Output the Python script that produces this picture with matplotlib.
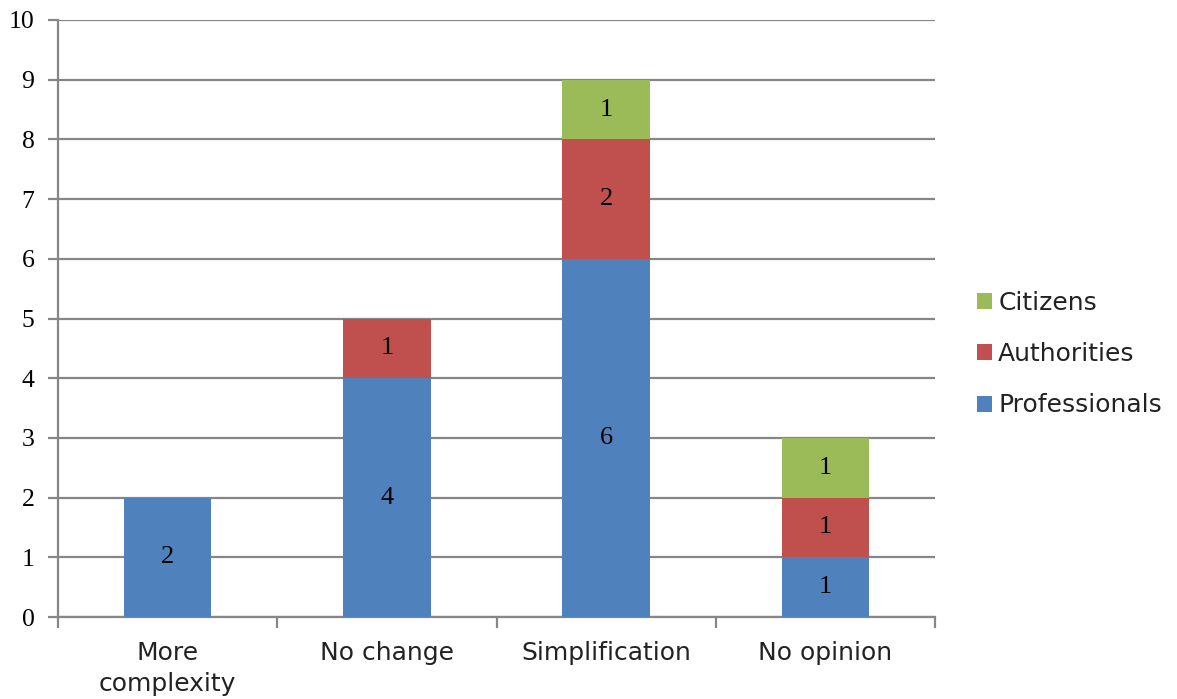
import numpy as np
import matplotlib
matplotlib.use('Agg')
import matplotlib.pyplot as plt

categories = ['More\ncomplexity', 'No change', 'Simplification', 'No opinion']
professionals = [2, 4, 6, 1]
authorities = [0, 1, 2, 1]
citizens = [0, 0, 1, 1]
y_ticks = list(range(0, 11))

grid_color = '#868686'
colors = {'Professionals': '#4F81BD', 'Authorities': '#C0504D', 'Citizens': '#9BBB59'}

fig = plt.figure(figsize=(11.77, 6.99), dpi=100)
ax = fig.add_axes([58 / 1177, 1 - 617 / 699, (935 - 58) / 1177, (617 - 20) / 699])

x = np.arange(len(categories))
width = 0.4
bottom = np.zeros(len(categories))
handles = {}
for name, vals in [('Professionals', professionals), ('Authorities', authorities), ('Citizens', citizens)]:
    vals = np.array(vals, dtype=float)
    bars = ax.bar(x, vals, width, bottom=bottom, color=colors[name], label=name, zorder=3)
    handles[name] = bars
    # data labels only on non-empty segments
    for xi, b, v in zip(x, bottom, vals):
        if v > 0:
            ax.text(xi, b + v / 2, f'{int(v)}', ha='center', va='center',
                    fontsize=19, family='Liberation Serif', zorder=4)
    bottom += vals

ax.set_xlim(-0.5, 3.5)
ax.set_ylim(0, 10)
ax.set_yticks(y_ticks)
ax.set_yticklabels([str(t) for t in y_ticks], family='Liberation Serif', fontsize=18.5)
ax.yaxis.grid(True, color=grid_color, linewidth=1.6, zorder=0)

ax.set_xticks(x)
ax.set_xticklabels(categories, fontsize=18, family='DejaVu Sans', color='#222222', linespacing=1.4)
ax.tick_params(axis='x', which='major', length=0, pad=17)
ax.set_xticks(np.arange(-0.5, 4, 1), minor=True)
ax.tick_params(axis='x', which='minor', length=8, width=1.6, color=grid_color, direction='out')
ax.tick_params(axis='y', length=7, width=1.6, color=grid_color, direction='out', pad=10)

for s in ['top', 'right']:
    ax.spines[s].set_visible(False)
for s in ['left', 'bottom']:
    ax.spines[s].set_color(grid_color)
    ax.spines[s].set_linewidth(1.6)

leg = fig.legend([handles['Citizens'], handles['Authorities'], handles['Professionals']],
                 ['Citizens', 'Authorities', 'Professionals'],
                 loc='center left', bbox_to_anchor=(977 / 1177, 1 - 354 / 699),
                 frameon=False, prop={'family': 'DejaVu Sans', 'size': 18},
                 borderpad=0, borderaxespad=0,
                 handlelength=0.6, handleheight=0.6, handletextpad=0.25, labelspacing=1.1)
for t in leg.get_texts():
    t.set_color('#222222')

fig.savefig('out.png', dpi=100)
